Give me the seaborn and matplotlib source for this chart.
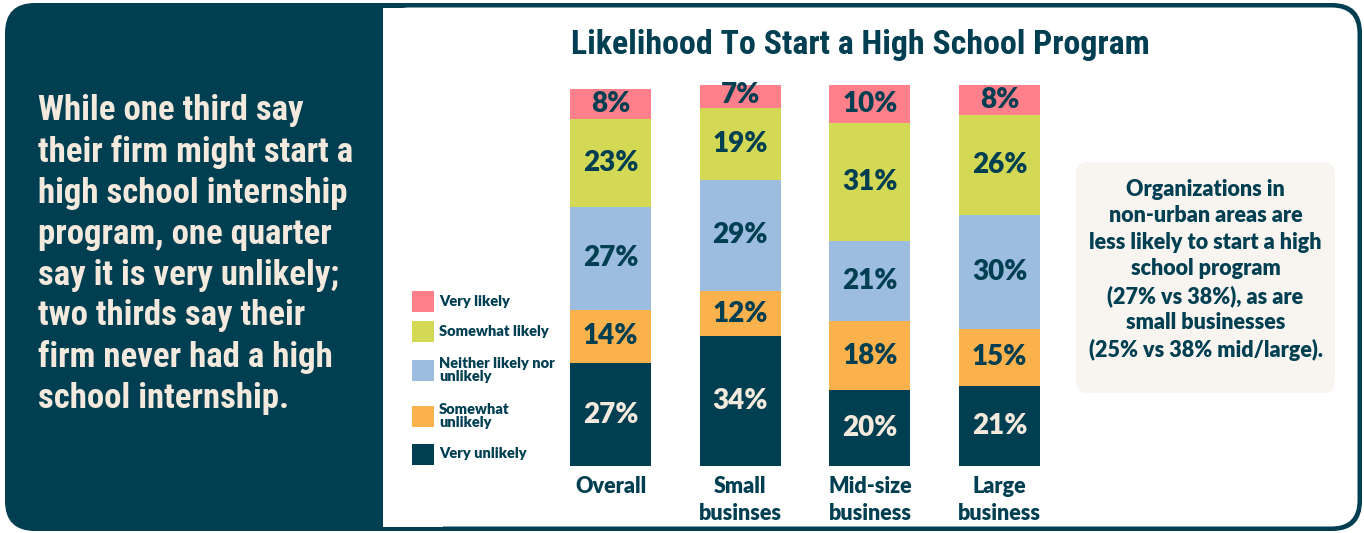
import matplotlib
matplotlib.use("Agg")
import matplotlib.pyplot as plt
import seaborn as sns
import numpy as np
from matplotlib.patches import FancyBboxPatch, Rectangle
from matplotlib import font_manager as fm

# ---------------- data ----------------
categories = ["Overall", "Small\nbusinses", "Mid-size\nbusiness", "Large\nbusiness"]
levels = ["Very unlikely", "Somewhat\nunlikely", "Neither likely nor\nunlikely",
          "Somewhat likely", "Very likely"]
very_unlikely = [27, 34, 20, 21]
somewhat_unlikely = [14, 12, 18, 15]
neither = [27, 29, 21, 30]
somewhat_likely = [23, 19, 31, 26]
very_likely = [8, 7, 10, 8]
colors = ["#003E51", "#FBB24C", "#9CBCE0", "#D4D955", "#FF808B"]

title = "Likelihood To Start a High School Program"
side_text = ("While one third say\ntheir firm might start a\nhigh school internship\n"
             "program, one quarter\nsay it is very unlikely;\ntwo thirds say their\n"
             "firm never had a high\nschool internship.")
note_text = ("Organizations in\nnon-urban areas are\nless likely to start a high\n"
             "school program\n(27% vs 38%), as are\nsmall businesses\n(25% vs 38% mid/large).")

DARK = "#003E51"
CREAM = "#F3E9DC"

sns.set_theme(style="white")
avail = {f.name for f in fm.fontManager.ttflist}
def pick(names):
    for n in names:
        if n in avail:
            return n
    return "DejaVu Sans"
COND = pick(["Roboto Condensed", "Liberation Sans Narrow", "Open Sans Condensed", "DejaVu Sans"])
BODY = pick(["Lato", "Roboto", "Open Sans", "DejaVu Sans"])
plt.rcParams["font.family"] = [BODY, "DejaVu Sans"]

fig = plt.figure(figsize=(13.64, 5.33), dpi=100)
fig.patch.set_facecolor("white")

# background in pixel coordinates
bg = fig.add_axes([0, 0, 1, 1], zorder=0)
bg.set_xlim(0, 1364)
bg.set_ylim(533, 0)
bg.axis("off")
bg.add_patch(FancyBboxPatch((5, 3), 1357, 528, boxstyle="round,pad=0,rounding_size=30",
                            fc=DARK, ec="none"))
bg.add_patch(FancyBboxPatch((383, 7.5), 974.5, 519, boxstyle="round,pad=0,rounding_size=26",
                            fc="white", ec="none"))
bg.add_patch(Rectangle((383, 7.5), 60, 519, fc="white", ec="none"))

bg.text(38, 94, side_text, ha="left", va="top", color=CREAM, fontsize=25,
        fontweight="heavy", family=[COND, "DejaVu Sans"], linespacing=1.3)
bg.text(860, 45, title, ha="center", va="center", color=DARK, fontsize=24.4,
        fontweight="heavy", family=[COND, "DejaVu Sans"])

bg.add_patch(FancyBboxPatch((1076, 162), 259, 231, boxstyle="round,pad=0,rounding_size=12",
                            fc="#F8F5F0", ec="none"))
bg.text(1205.5, 270, note_text, ha="center", va="center", color=DARK, fontsize=15.5,
        fontweight="heavy", linespacing=1.32)

# legend (drawn by hand to match the spacing)
leg_y = [454, 416, 370, 331, 301]
for i, lab in enumerate(levels):
    bg.add_patch(Rectangle((412, leg_y[i] - 10.5), 22, 21, fc=colors[i], ec="none"))
    bg.text(439, leg_y[i], lab, ha="left", va="center", color=DARK, fontsize=10.5,
            fontweight="heavy", linespacing=1.0)

# ---------------- stacked bars ----------------
stack = np.array([very_unlikely, somewhat_unlikely, neither, somewhat_likely, very_likely], dtype=float)
cum = stack.cumsum(axis=0)

ax = fig.add_axes([545.7 / 1364, 67 / 533, 518.7 / 1364, 381 / 533], zorder=2)
ax.patch.set_alpha(0)
for i in reversed(range(len(stack))):
    sns.barplot(x=categories, y=cum[i], color=colors[i], width=0.625, saturation=1,
                order=categories, linewidth=0, ax=ax)

for i in range(len(stack)):
    for j in range(len(categories)):
        y = cum[i, j] - stack[i, j] / 2
        ax.text(j, y, f"{int(stack[i, j])}%", ha="center", va="center",
                color=CREAM if i == 0 else DARK, fontsize=20, fontweight="heavy")

ax.set_xlim(-0.5, 3.5)
ax.set_ylim(0, 100)
ax.set_yticks([])
ax.set_ylabel("")
ax.tick_params(axis="x", length=0, pad=7)
for t in ax.get_xticklabels():
    t.set_fontsize(15.5)
    t.set_fontweight("heavy")
    t.set_color(DARK)
    t.set_linespacing(1.35)
    t.set_verticalalignment("top")
sns.despine(ax=ax, left=True, bottom=True)

fig.savefig("out.png", dpi=100, facecolor="white")
